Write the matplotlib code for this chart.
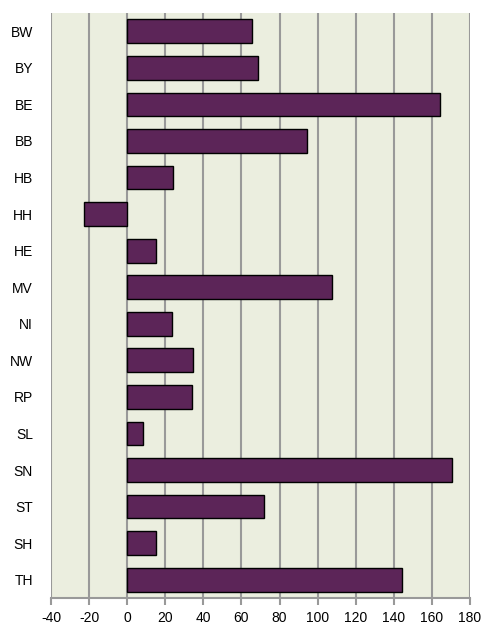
import numpy as np
import matplotlib.pyplot as plt

states = ['BW', 'BY', 'BE', 'BB', 'HB', 'HH', 'HE', 'MV',
          'NI', 'NW', 'RP', 'SL', 'SN', 'ST', 'SH', 'TH']
values = [65.6, 68.5, 164.5, 94.4, 24.0, -22.9, 14.9, 107.7,
          23.4, 34.8, 34.1, 8.2, 170.3, 71.9, 15.0, 144.1]
xticks = list(range(-40, 181, 20))


def main():
    plt.rcParams['font.family'] = ['Liberation Sans', 'DejaVu Sans']
    fig = plt.figure(figsize=(4.85, 6.26), dpi=100)
    ax = fig.add_axes([51 / 485, 1 - 598 / 626, 419 / 485, 585 / 626])
    ax.set_facecolor('#ebeedf')

    y = np.arange(len(states))
    ax.barh(y, values, height=0.65, color='#5c2558', edgecolor='black',
            linewidth=1, zorder=3)

    ax.set_xlim(-40, 180)
    ax.set_ylim(len(states) - 0.5, -0.5)
    ax.set_xticks(xticks)
    ax.set_xticklabels([str(t) for t in xticks], fontsize=10)
    ax.set_yticks(y)
    ax.set_yticklabels(states, fontsize=10)

    ax.grid(axis='x', color='#999999', linewidth=1.5, zorder=1)
    ax.grid(axis='y', visible=False)
    for side in ['left', 'top', 'right']:
        ax.spines[side].set_visible(False)
    ax.spines['bottom'].set_color('#999999')
    ax.spines['bottom'].set_linewidth(1.5)
    ax.tick_params(axis='x', length=5, width=1.5, color='#999999', pad=4)
    ax.tick_params(axis='y', length=0, pad=13)

    fig.savefig('out.png', dpi=100)


if __name__ == '__main__':
    main()
